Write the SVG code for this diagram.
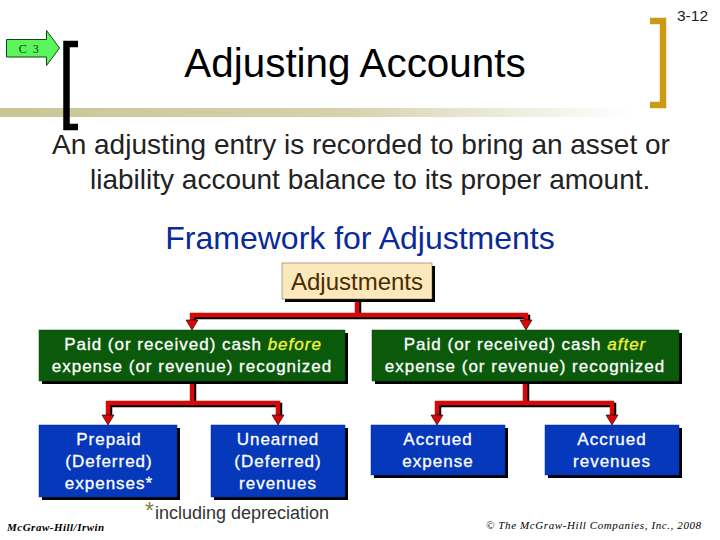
<svg xmlns="http://www.w3.org/2000/svg" width="720" height="540" viewBox="0 0 720 540">
<style>
text{font-family:"Liberation Sans",Arial,sans-serif}
.m{text-anchor:middle}
.t{fill:#fff;font-size:17px;letter-spacing:1px;stroke:#fff;stroke-width:.3px;text-anchor:middle}
.g{fill:#0b5a0b;stroke:#0a4a0a;stroke-width:.5}
.b{fill:#0638bc;stroke:#0a2f9a;stroke-width:.5}
.s{fill:#000}
.c{fill:none;stroke:#000;stroke-width:4.500}
.r{fill:none;stroke:#d90808;stroke-width:4.500}
.serif{font-family:"Liberation Serif",serif;font-style:italic;font-size:11px}
</style>
<defs>
<linearGradient id="bar" x1="0" x2="1" y1="0" y2="0"><stop offset="0" stop-color="#c9c695"/><stop offset=".55" stop-color="#d5d2ad"/><stop offset="1" stop-color="#fff"/></linearGradient>
<marker id="ah" markerUnits="userSpaceOnUse" markerWidth="16" markerHeight="14" refX="8" refY="1" orient="0"><path d="M2 1H14L8 11Z" fill="#d90808" stroke="#000" stroke-width=".6"/></marker>
</defs>
<rect width="720" height="540" fill="#fff"/>
<rect x="0" y="108" width="630" height="9" fill="url(#bar)"/>
<g id="badge"><path d="M6.500 39.500H46.500V30.500L59.500 48L46.500 65.500V57H6.500Z" fill="#5cf55c" stroke="#0d4a1a"/><text x="29.500" y="53" class="m" style="font-family:'Liberation Serif',serif;font-size:12px;letter-spacing:1.500px" fill="#0b3a12">C 3</text></g>
<path d="M78 44H66.500V127H78" fill="none" stroke="#000" stroke-width="6.500"/>
<path d="M650 21H663V105H650" fill="none" stroke="#c99a12" stroke-width="6.500"/>
<text x="677" y="21" font-size="15.500" fill="#222">3-12</text>
<text x="355" y="77" class="m" font-size="40.400">Adjusting Accounts</text>
<text x="52" y="154" font-size="28" fill="#222">An adjusting entry is recorded to bring an asset or</text>
<text x="90" y="189" font-size="28" fill="#222">liability account balance to its proper amount.</text>
<text x="360" y="249" class="m" font-size="32" fill="#0a2a9a">Framework for Adjustments</text>
<g id="connectors">
<g transform="translate(2 2)"><path class="c" d="M357 299V315H192V320M357 315H526V320"/><path class="c" d="M192 381V403H108V415M192 403H278V415"/><path class="c" d="M525 381V403H437V415M525 403H612V415"/></g>
<path class="r" d="M357 299V315H192V320" marker-end="url(#ah)"/>
<path class="r" d="M357 315H526V320" marker-end="url(#ah)"/>
<path class="r" d="M192 381V403H108V415" marker-end="url(#ah)"/>
<path class="r" d="M192 403H278V415" marker-end="url(#ah)"/>
<path class="r" d="M525 381V403H437V415" marker-end="url(#ah)"/>
<path class="r" d="M525 403H612V415" marker-end="url(#ah)"/>
</g>
<g id="adjustments"><rect class="s" x="285" y="266" width="150" height="36"/><rect x="282" y="263" width="150" height="36" fill="#fbe8bd" stroke="#6b5a20" stroke-width=".5"/><text x="357" y="290" class="m" font-size="24" fill="#4a2c00">Adjustments</text></g>
<g id="before"><rect class="s" x="42" y="333" width="306" height="51"/><rect class="g" x="39" y="330" width="306" height="51"/><text x="193" y="350" class="t">Paid (or received) cash <tspan fill="#f4f43c" stroke="#f4f43c" font-style="italic">before</tspan></text><text x="192" y="372" class="t">expense (or revenue) recognized</text></g>
<g id="after"><rect class="s" x="375" y="333" width="307" height="51"/><rect class="g" x="372" y="330" width="307" height="51"/><text x="525" y="350" class="t">Paid (or received) cash <tspan fill="#f4f43c" stroke="#f4f43c" font-style="italic">after</tspan></text><text x="525" y="372" class="t">expense (or revenue) recognized</text></g>
<g id="prepaid"><rect class="s" x="42" y="428" width="138" height="72"/><rect class="b" x="39" y="425" width="138" height="72"/><text x="109" y="445" class="t">Prepaid</text><text x="109" y="467" class="t">(Deferred)</text><text x="109" y="489" class="t">expenses*</text></g>
<g id="unearned"><rect class="s" x="214" y="428" width="134" height="72"/><rect class="b" x="211" y="425" width="134" height="72"/><text x="278" y="445" class="t">Unearned</text><text x="278" y="467" class="t">(Deferred)</text><text x="278" y="489" class="t">revenues</text></g>
<g id="accrued-expense"><rect class="s" x="374" y="428" width="134" height="50"/><rect class="b" x="371" y="425" width="134" height="50"/><text x="438" y="445" class="t">Accrued</text><text x="438" y="467" class="t">expense</text></g>
<g id="accrued-revenues"><rect class="s" x="548" y="428" width="134" height="50"/><rect class="b" x="545" y="425" width="134" height="50"/><text x="612" y="445" class="t">Accrued</text><text x="612" y="467" class="t">revenues</text></g>
<text x="145" y="519" font-size="23" fill="#8a8440">*</text>
<text x="155" y="519" font-size="18" fill="#333">including depreciation</text>
<text x="7" y="531" class="serif" font-weight="700" letter-spacing=".5">McGraw-Hill/Irwin</text>
<text x="486" y="529" class="serif" letter-spacing=".6">© The McGraw-Hill Companies, Inc., 2008</text>
</svg>
